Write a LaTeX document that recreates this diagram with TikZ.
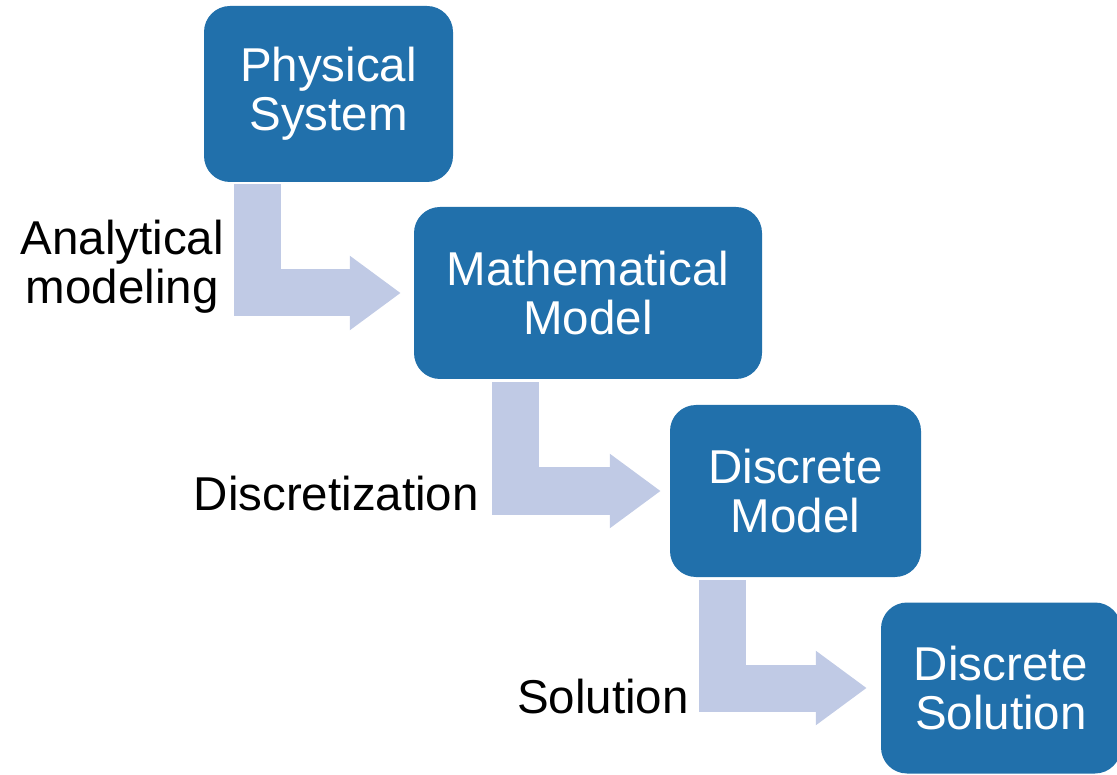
\documentclass[tikz,border=0pt]{standalone}
\usepackage{fontspec}
\setmainfont{Liberation Sans}
\usetikzlibrary{arrows.meta,calc}

\definecolor{boxblue}{HTML}{2170AB}
\definecolor{flowblue}{HTML}{C0CAE5}

\begin{document}
\begin{tikzpicture}[x=1pt,y=-1pt,
    stage/.style={fill=boxblue, rounded corners=26pt, text=white, align=center,
      font=\fontsize{47.5}{49}\selectfont, inner sep=0pt},
    flow/.style={flowblue, line width=47pt, line join=miter,
      -{Triangle[width=71pt,length=51pt]}},
    steplabel/.style={align=center, anchor=east, inner sep=0pt,
      font=\fontsize{47.5}{49}\selectfont}]
  \useasboundingbox (0,0) rectangle (1117,775);

  % Draw the four stages
  \node[stage, minimum width=249pt, minimum height=176pt] (phys) at (328.5,94) {Physical\\System};
  \node[stage, minimum width=348pt, minimum height=172pt] (math) at (588,293) {Mathematical\\Model};
  \node[stage, minimum width=251pt, minimum height=172pt] (dmod) at (795.5,491) {Discrete\\Model};
  \node[stage, minimum width=240pt, minimum height=171pt] (dsol) at (1001,688) {Discrete\\Solution};

  % Draw the bent arrows between the stages
  \draw[flow] ($(phys.south west)+(53.5,2)$) |- ([xshift=-13pt]math.west);
  \draw[flow] ($(math.south west)+(101.5,3)$) |- ([xshift=-9pt]dmod.west);
  \draw[flow] ($(dmod.south west)+(53,3)$) |- ([xshift=-14pt]dsol.west);

  % Label the arrows
  \node[steplabel] (model) at (224,267) {Analytical\\modeling};
  \node[steplabel] (discr) at (479,494) {Discretization};
  \node[steplabel] (solve) at (689,697) {Solution};
\end{tikzpicture}
\end{document}
